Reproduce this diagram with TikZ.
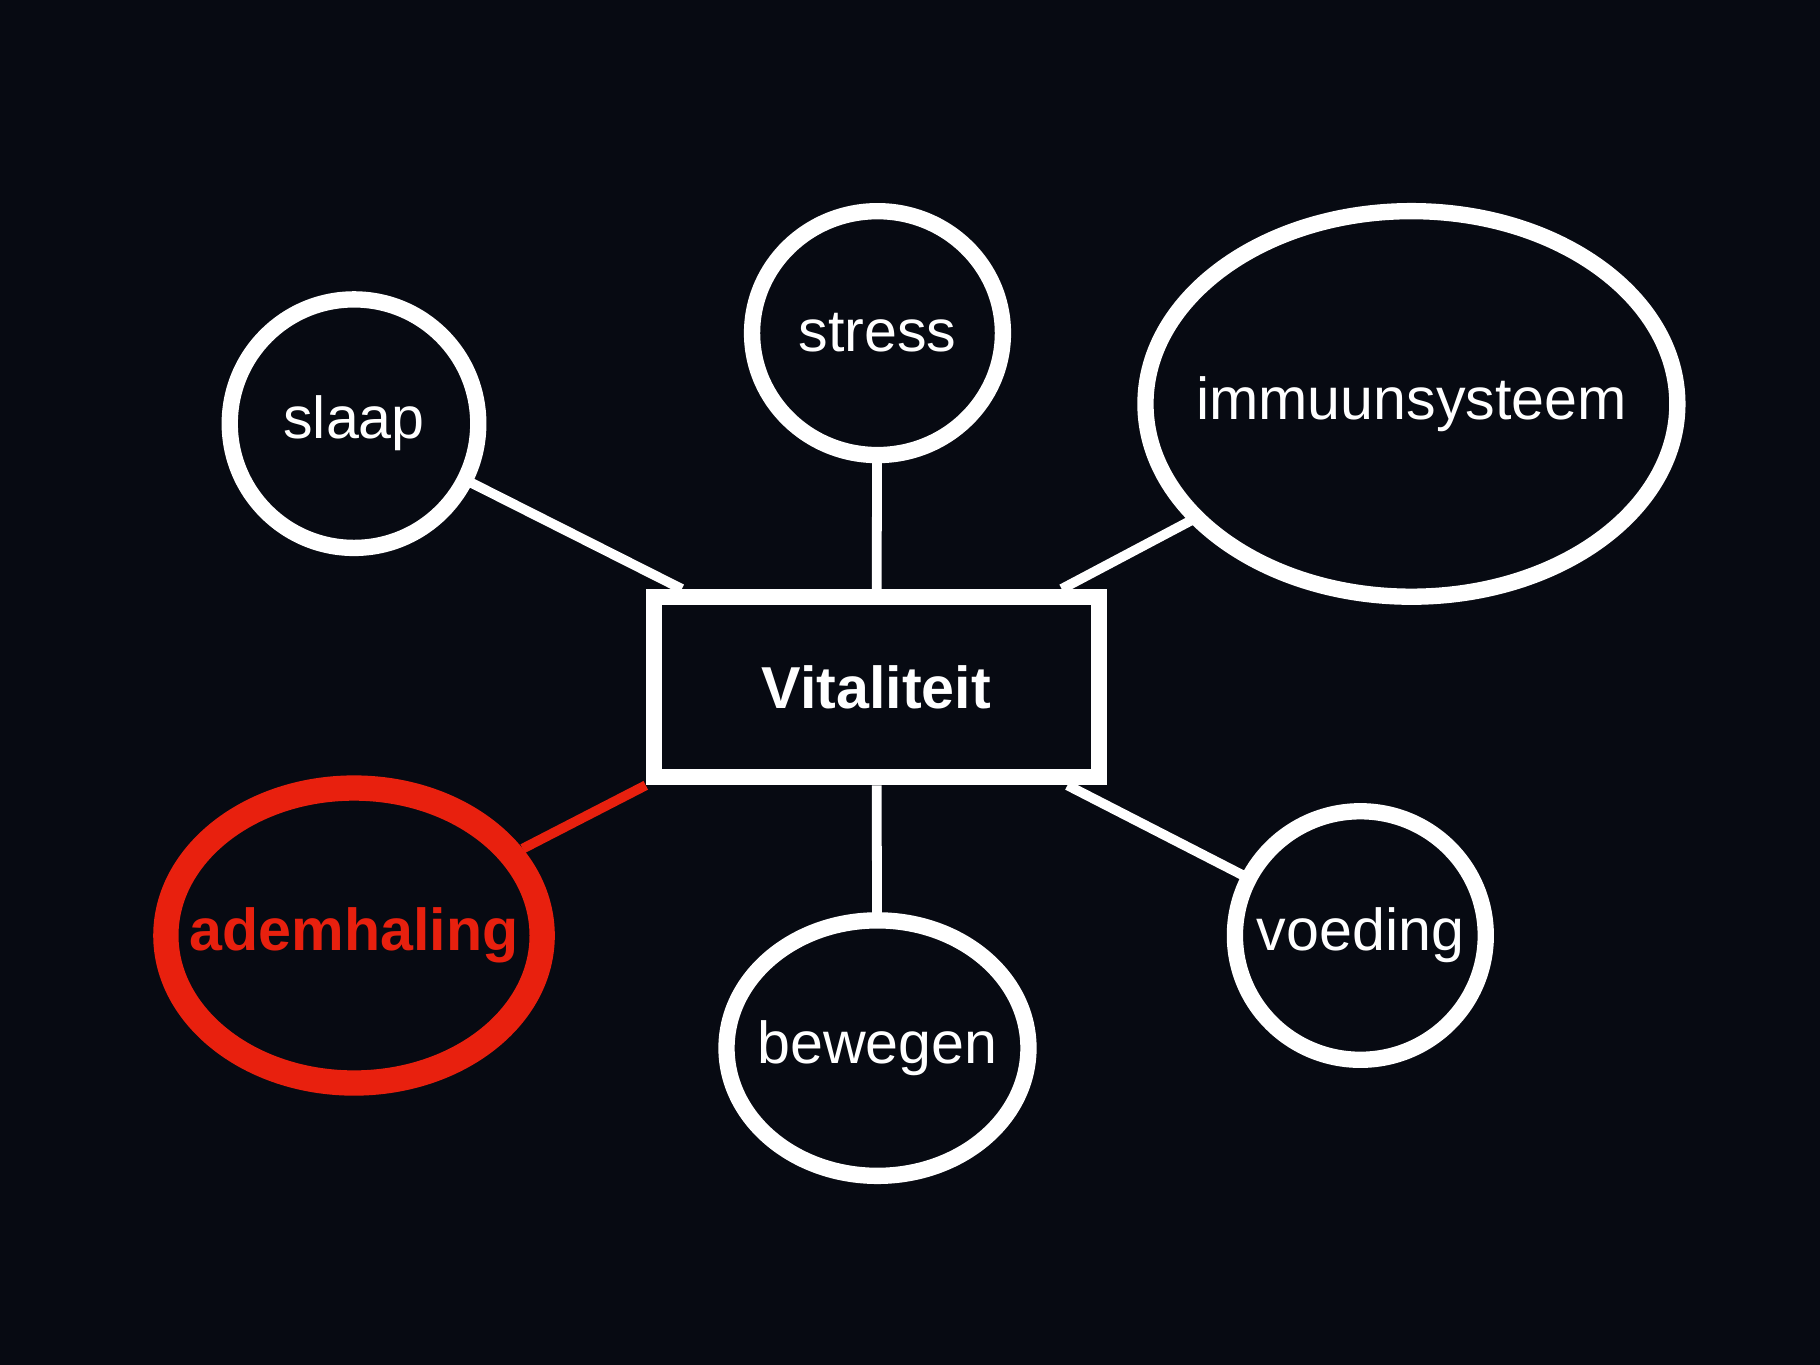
\documentclass[tikz,border=0pt]{standalone}
\usepackage{fontspec}
\setmainfont{Liberation Sans}
\usetikzlibrary{shapes.geometric}
\definecolor{bg}{HTML}{070A12}
\definecolor{hot}{HTML}{E8200E}
\tikzset{
  bub/.style={ellipse,draw=white,line width=4pt,inner sep=0pt,outer sep=0pt,
    label={[text=white,font=\fontsize{14.5}{16}\selectfont]center:#1}},
  conn/.style={draw=white,line width=2.4pt}
}
\begin{document}
\begin{tikzpicture}[x=0.01cm,y=-0.01cm]
\fill[bg] (0,0) rectangle (1568,1176);
\useasboundingbox (0,0) rectangle (1568,1176);
\node[draw=white,line width=4pt,minimum width=383\pgflinewidth*0+3.83cm,minimum height=1.55cm,inner sep=0pt,text=white,font=\bfseries\fontsize{14.5}{16}\selectfont] (vit) at (755,592) {Vitaliteit};
\node[bub=slaap,minimum width=2.14cm,minimum height=2.14cm] (slaap) at (305,365) {};
\node[bub=stress,minimum width=2.16cm,minimum height=2.10cm] (stress) at (756,287) {};
\node[bub=immuunsysteem,minimum width=4.58cm,minimum height=3.32cm] (imm) at (1216,348) {};
\node[bub=bewegen,minimum width=2.60cm,minimum height=2.20cm] (bew) at (756,903) {};
\node[bub=voeding,minimum width=2.16cm,minimum height=2.14cm] (voed) at (1172,806) {};
\node[ellipse,draw=hot,line width=6.2pt,inner sep=0pt,minimum width=3.24cm,minimum height=2.54cm,
  label={[text=hot,font=\bfseries\fontsize{14.5}{16}\selectfont]center:ademhaling}] (adem) at (305,806) {};
\draw[conn] (slaap) -- (vit);
\draw[conn] (stress) -- (vit);
\draw[conn] (imm) -- (vit);
\draw[conn] (voed) -- (vit);
\draw[conn] (bew) -- (vit);
\draw[draw=hot,line width=2.4pt] (adem) -- (vit.south west);
\end{tikzpicture}
\end{document}
